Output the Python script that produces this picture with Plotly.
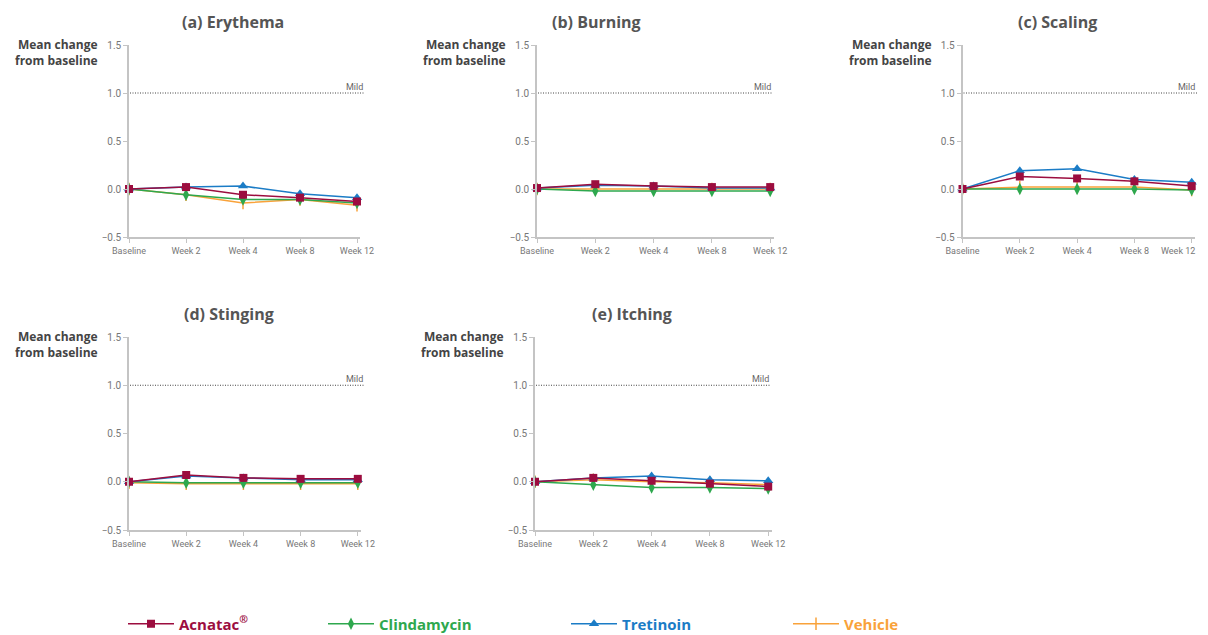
import plotly.graph_objects as go

# the page body adds an 8px margin; the figure covers the window from there on
OFF = 8
W, H = 1208 - OFF, 635 - OFF
SAFE_RIGHT = 1197  # right-most window pixel that is reliably visible

weeks = ["Baseline", "Week 2", "Week 4", "Week 8", "Week 12"]
week_pos = [0, 1, 2, 3, 4]

panel_titles = ["(a) Erythema", "(b) Burning", "(c) Scaling", "(d) Stinging", "(e) Itching"]

acnatac = [
    [0.00, 0.02, -0.06, -0.09, -0.13],
    [0.01, 0.05, 0.03, 0.02, 0.02],
    [0.00, 0.13, 0.11, 0.08, 0.03],
    [0.00, 0.07, 0.04, 0.03, 0.03],
    [0.00, 0.04, 0.01, -0.02, -0.05],
]
clindamycin = [
    [0.00, -0.06, -0.11, -0.11, -0.145],
    [0.00, -0.02, -0.02, -0.02, -0.02],
    [0.00, 0.00, 0.00, 0.00, -0.01],
    [0.00, -0.01, -0.01, -0.01, -0.01],
    [0.00, -0.03, -0.06, -0.06, -0.07],
]
tretinoin = [
    [0.00, 0.02, 0.03, -0.05, -0.09],
    [0.01, 0.04, 0.03, 0.01, 0.01],
    [0.00, 0.19, 0.21, 0.10, 0.07],
    [0.00, 0.06, 0.04, 0.02, 0.02],
    [0.00, 0.04, 0.06, 0.02, 0.01],
]
vehicle = [
    [0.00, -0.06, -0.145, -0.11, -0.17],
    [0.00, 0.00, 0.00, 0.00, 0.00],
    [0.00, 0.02, 0.02, 0.02, -0.01],
    [-0.01, -0.02, -0.02, -0.02, -0.02],
    [0.00, 0.02, 0.00, -0.01, -0.03],
]

mild_level = 1.0
y_ticks = [-0.5, 0.0, 0.5, 1.0, 1.5]

# ---- layout geometry (window pixels) ----
# (baseline px, px per category step, top px, bottom px, title center px, mild end px)
panels = [
    (129, 57.0, 45, 237, 233, 365),
    (537, 58.3, 45, 237, 596, 773),
    (962.5, 57.3, 45, 237, 1057, 1197),
    (129, 57.2, 337, 530, 229, 365),
    (535, 58.3, 337, 530, 632, 771),
]
XMAX = 4.06

def px(x):
    return (x - OFF) / W

def py(y):
    return 1 - (y - OFF) / H

series = [
    ("Vehicle", vehicle, "#F9A23A", dict(symbol="line-ns-open", size=9, line=dict(width=1.5, color="#F9A23A"))),
    ("Clindamycin", clindamycin, "#2EA84E", dict(symbol="diamond-tall", size=9)),
    ("Tretinoin", tretinoin, "#1B7CC6", dict(symbol="triangle-up", size=9)),
    ("Acnatac", acnatac, "#9C0D3F", dict(symbol="square", size=8)),
]
legend_map = {"Acnatac": ("legend", 123), "Clindamycin": ("legend2", 323),
              "Tretinoin": ("legend3", 566), "Vehicle": ("legend4", 788)}
legend_names = {
    "Acnatac": "<b>Acnatac<sup>®</sup></b>",
    "Clindamycin": "<b>Clindamycin</b>",
    "Tretinoin": "<b>Tretinoin</b>",
    "Vehicle": "<b>Vehicle</b>",
}

TICK_FONT = "Roboto, Open Sans, sans-serif"

fig = go.Figure()
layout = dict(
    width=W, height=H,
    margin=dict(l=0, r=0, t=0, b=0, autoexpand=False),
    paper_bgcolor="white", plot_bgcolor="white",
    font=dict(family="Open Sans, Noto Sans, sans-serif", color="#555"),
    shapes=[], annotations=[],
)

for i, (x0, step, top, bot, tcx, mild_end) in enumerate(panels):
    k = "" if i == 0 else str(i + 1)
    xa, ya = "x" + k, "y" + k
    x_end_px = x0 + step * XMAX
    last_px = x0 + step * week_pos[-1]
    # last label would run past the visible edge: draw it right-aligned instead
    edge_label = last_px + 17 > SAFE_RIGHT
    ticktext = list(weeks)
    if edge_label:
        ticktext[-1] = ""
        layout["annotations"].append(dict(
            text=weeks[-1], xref=xa, yref=ya, x=week_pos[-1], y=-0.5,
            xanchor="right", yanchor="top", xshift=SAFE_RIGHT - last_px, yshift=-7,
            showarrow=False, font=dict(family=TICK_FONT, size=9, color="#777"),
        ))
    layout["xaxis" + k] = dict(
        domain=[px(x0), px(x_end_px)], range=[0, XMAX], anchor=ya,
        tickvals=week_pos, ticktext=ticktext, showgrid=False, zeroline=False,
        showline=True, linecolor="#c4c4c4", linewidth=1.5,
        ticks="outside", ticklen=4, tickcolor="#c4c4c4", tickwidth=1,
        tickfont=dict(family=TICK_FONT, size=9, color="#777"), fixedrange=True,
        automargin=False, ticklabeloverflow="allow",
    )
    layout["yaxis" + k] = dict(
        domain=[py(bot), py(top)], range=[-0.5, 1.5], anchor=xa,
        tickvals=y_ticks, tickformat=".1f", showgrid=False, zeroline=False,
        showline=True, linecolor="#c4c4c4", linewidth=1.5,
        ticks="outside", ticklen=4, tickcolor="#c4c4c4", tickwidth=1,
        tickfont=dict(family=TICK_FONT, size=10, color="#777"), fixedrange=True,
        automargin=False,
    )
    # Mild reference line
    layout["shapes"].append(dict(
        type="line", xref="paper", yref=ya, x0=px(x0 + 1), x1=px(mild_end),
        y0=mild_level, y1=mild_level, line=dict(color="#444", width=1, dash="1px,1.5px"),
    ))
    layout["annotations"].append(dict(
        text="Mild", xref="paper", yref=ya, x=px(mild_end), y=mild_level,
        xanchor="right", yanchor="bottom", showarrow=False,
        font=dict(family=TICK_FONT, size=9, color="#666"), yshift=-1,
    ))
    # panel title
    layout["annotations"].append(dict(
        text="<b>" + panel_titles[i] + "</b>", xref="paper", yref="paper",
        x=px(tcx), y=py(top - 23), xanchor="center", yanchor="middle",
        showarrow=False, font=dict(size=16, color="#555"),
    ))
    # y axis title
    layout["annotations"].append(dict(
        text="<b>Mean change<br>from baseline</b>", xref="paper", yref="paper",
        x=px(x0 - 29), y=py(top + 7), xanchor="right", yanchor="middle",
        align="right", showarrow=False, font=dict(size=12, color="#444"),
    ))

    for name, data, color, marker in series:
        lg, _ = legend_map[name]
        fig.add_trace(go.Scatter(
            x=week_pos, y=data[i], mode="lines+markers",
            line=dict(color=color, width=1.5),
            marker=dict(color=color, **marker),
            name=legend_names[name], legend=lg, legendgroup=name,
            showlegend=(i == 0), xaxis=xa, yaxis=ya, cliponaxis=False,
        ))

colors = {n: c for n, _, c, _ in series}
for name, (lg, lx) in legend_map.items():
    layout[lg] = dict(
        x=px(lx), y=py(624), xanchor="left", yanchor="middle",
        orientation="h", bgcolor="rgba(0,0,0,0)", itemwidth=46,
        font=dict(size=15, color=colors[name]),
    )

fig.update_layout(**layout)
fig.write_html("out.html")
